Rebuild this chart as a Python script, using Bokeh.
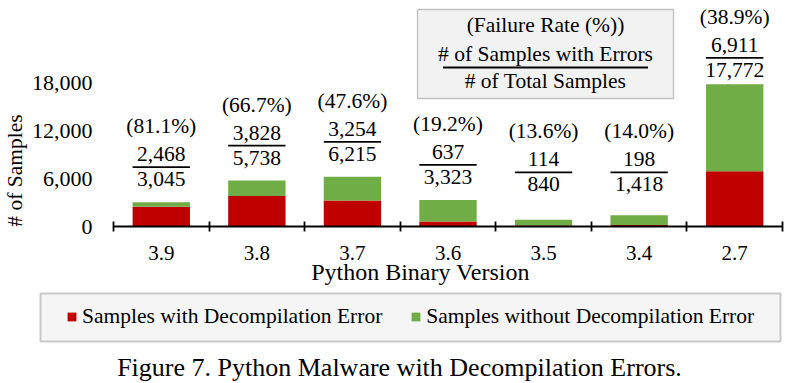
from bokeh.plotting import figure
from bokeh.models import (ColumnDataSource, FixedTicker, NumeralTickFormatter, Range1d,
                          Legend, LegendItem, BoxAnnotation, CustomJSTickFormatter)
from bokeh.core.properties import value
from bokeh.embed import file_html
from bokeh.resources import INLINE

versions = ["3.9", "3.8", "3.7", "3.6", "3.5", "3.4", "2.7"]
with_error = [2468, 3828, 3254, 637, 114, 198, 6911]
total = [3045, 5738, 6215, 3323, 840, 1418, 17772]
rate_pct = [81.1, 66.7, 47.6, 19.2, 13.6, 14.0, 38.9]
y_ticks = [0, 6000, 12000, 18000]

FONT = "Liberation Serif"
RED = "#c00000"
GREEN = "#70ad47"

W, H = 787, 383
X0_PX, X1_PX, Y0_PX = 113, 782, 226   # pixel positions of x=0, x=7, y=0
N = len(versions)
UX = (X1_PX - X0_PX) / N   # pixels per category
PX = 125.0                 # data units per pixel (6000 per 48 px)


def dx(px):
    return (px - X0_PX) / UX


def dy(px):
    return (Y0_PX - px) * PX


x = [i + 0.5 for i in range(N)]
anchor = [min(max(t, 2400), 16700) for t in total]
src = ColumnDataSource(dict(
    x=x, err=with_error, total=total,
    zero=[0] * N,
    pct=["(%.1f%%)" % r for r in rate_pct],
    num=["{:,}".format(v) for v in with_error],
    den=["{:,}".format(v) for v in total],
    y_pct=[a + 76 * PX for a in anchor],
    y_num=[a + 48 * PX for a in anchor],
    y_line=[a + 35 * PX for a in anchor],
    y_den=[a + 23 * PX for a in anchor],
    x0=[v - 0.3 for v in x], x1=[v + 0.3 for v in x],
))

p = figure(width=W, height=H, output_backend="svg", toolbar_location=None,
           x_range=Range1d(dx(0), dx(W)), y_range=Range1d(dy(H), dy(0)),
           min_border_left=0, min_border_right=0, min_border_top=0, min_border_bottom=0)
p.outline_line_color = None
p.grid.grid_line_color = None
p.background_fill_color = "white"
p.border_fill_color = "white"

r_err = p.vbar(x="x", bottom="zero", top="err", width=0.6, fill_color=RED,
               line_color=None, source=src)
r_ok = p.vbar(x="x", bottom="err", top="total", width=0.6, fill_color=GREEN,
              line_color=None, source=src)

txt = dict(text_font=value(FONT), text_font_size="21.5px", text_align="center",
           text_baseline="middle", text_color="black", source=src)
p.text(x="x", y="y_pct", text="pct", **txt)
p.text(x="x", y="y_num", text="num", **txt)
p.text(x="x", y="y_den", text="den", **txt)
p.segment(x0="x0", y0="y_line", x1="x1", y1="y_line", line_color="black",
          line_width=1.8, source=src)

# Key box at top
kl, kr = dx(417), dx(673)
box = BoxAnnotation(left=kl, right=kr, top=dy(9), bottom=dy(98),
                    fill_color="#f2f2f2", fill_alpha=1.0, line_color="#404040",
                    line_width=1.3, level="underlay")
p.add_layout(box)
kx = (kl + kr) / 2
key = ColumnDataSource(dict(
    x=[kx, kx, kx],
    y=[dy(24), dy(53), dy(80)],
    t=["(Failure Rate (%))", "# of Samples with Errors", "# of Total Samples"],
))
p.text(x="x", y="y", text="t", source=key, text_font=value(FONT), text_font_size="21.5px",
       text_align="center", text_baseline="middle", text_color="black")
kh = 102.5 / UX
p.segment(x0=[kx - kh], y0=[dy(67)], x1=[kx + kh], y1=[dy(67)],
          line_color="black", line_width=1.8)

# Axes (fixed inside the canvas)
xa = p.xaxis[0]
xa.fixed_location = 0
xa.bounds = (0, N)
xa.ticker = FixedTicker(ticks=x, minor_ticks=list(range(N + 1)))
xa.formatter = CustomJSTickFormatter(args=dict(names=versions),
                                     code="return names[Math.round(tick - 0.5)];")
xa.axis_line_color = "black"
xa.axis_line_width = 1.8
xa.major_tick_in = 0
xa.major_tick_out = 0
xa.minor_tick_in = 5
xa.minor_tick_out = 5
xa.minor_tick_line_color = "black"
xa.minor_tick_line_width = 1.8
xa.major_label_standoff = 14
xa.major_label_text_font = FONT
xa.major_label_text_font_size = "21px"
xa.major_label_text_color = "black"

ya = p.yaxis[0]
ya.fixed_location = 0
ya.bounds = (-4000, 18000)
ya.ticker = FixedTicker(ticks=y_ticks)
ya.formatter = NumeralTickFormatter(format="0,0")
ya.axis_line_color = None
ya.major_tick_line_color = None
ya.major_tick_out = 0
ya.major_tick_in = 0
ya.minor_tick_line_color = None
ya.major_label_standoff = 21
ya.major_label_text_font = FONT
ya.major_label_text_font_size = "22px"
ya.major_label_text_color = "black"
ya.axis_label = "# of Samples"
ya.axis_label_text_font = FONT
ya.axis_label_text_font_size = "21.5px"
ya.axis_label_text_font_style = "normal"
ya.axis_label_text_color = "black"
ya.axis_label_standoff = 2

# x-axis title (slightly left of the axis centre, as in the reference)
p.text(x=[dx(420)], y=[dy(271)], text=["Python Binary Version"],
       text_font=value(FONT), text_font_size="24px", text_color="black",
       text_align="center", text_baseline="middle")

# Legend frame and legend
p.add_layout(BoxAnnotation(left=dx(40), right=dx(780), top=dy(293), bottom=dy(341),
                           fill_color="#f5f5f5", fill_alpha=1.0, line_color="#5a5a5a",
                           line_width=2, level="underlay"))
legend = Legend(items=[LegendItem(label="Samples with Decompilation Error", renderers=[r_err]),
                       LegendItem(label="Samples without Decompilation Error", renderers=[r_ok])],
                orientation="horizontal", location=(66, H - 317 - 12),
                label_text_font=FONT, label_text_font_size="21.5px", label_text_color="black",
                glyph_width=11, glyph_height=11, label_standoff=5, spacing=28,
                label_height=24, padding=0, margin=0,
                background_fill_alpha=0, border_line_color=None)
p.add_layout(legend)

p.text(x=[dx(399)], y=[dy(367)], text=["Figure 7. Python Malware with Decompilation Errors."],
       text_font=value(FONT), text_font_size="26px", text_color="black",
       text_align="center", text_baseline="middle")

open("out.html", "w").write(file_html(p, INLINE))
